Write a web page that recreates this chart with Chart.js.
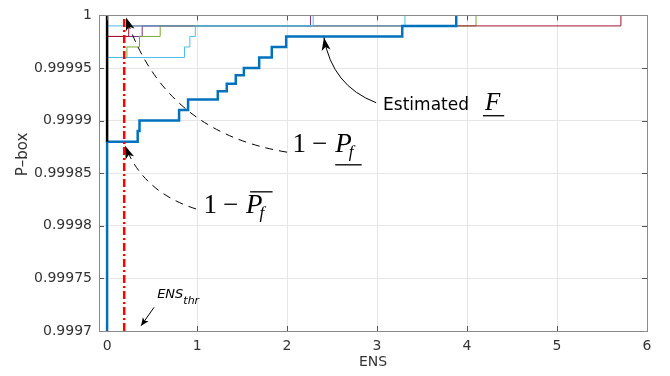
<!DOCTYPE html>
<html lang="en">
<head>
<meta charset="UTF-8">
<title>P-box of ENS</title>
<script src="https://cdn.jsdelivr.net/npm/chart.js"></script>
<style>
  body { margin: 0; background: #fff; }
</style>
</head>
<body>
<canvas id="pboxChart" width="670" height="376"></canvas>
<script>
// axis ticks
var xTicks = [0, 1, 2, 3, 4, 5, 6];
var yTicks = [0.9997, 0.99975, 0.9998, 0.99985, 0.9999, 0.99995, 1];
var yTickLabels = ['0.9997', '0.99975', '0.9998', '0.99985', '0.9999', '0.99995', '1'];

// estimated F (thick blue): ENS where it jumps, level after the jump
var estEns  = [0, 0, 0.34, 0.36, 0.80, 0.90, 1.23, 1.33, 1.43, 1.52, 1.69, 1.83, 1.99, 3.28, 3.88];
var estProb = [0.9997, 0.99988, 0.99989, 0.9999, 0.99991, 0.99992, 0.999928, 0.999935, 0.999943, 0.99995, 0.99996, 0.99997, 0.99998, 0.99999, 1];

// other p-box curves (thin)
var lb1Ens = [0, 2.29];
var lb1Prob = [0.99999, 1];
var lb2Ens = [0, 0.86, 0.92, 0.98, 3.31];
var lb2Prob = [0.99996, 0.99997, 0.99998, 0.99999, 1];
var greenEns = [0, 0.22, 0.36, 0.59, 4.10];
var greenProb = [0.99996, 0.99997, 0.99998, 0.99999, 1];
var purpleEns = [0, 0.39, 2.26];
var purpleProb = [0.99998, 0.99999, 1];
var crimsonEns = [0, 0.24, 5.71];
var crimsonProb = [0.99998, 0.99999, 1];

// black bound at ENS = 0
var boundEns = [0, 0];
var boundProb = [0.99988, 1];

// threshold
var ensThr = 0.19;

var sans = '"DejaVu Sans", sans-serif';
var serif = '"Liberation Serif", serif';

function toPoints(xs, ys) {
    var pts = [];
    for (var i = 0; i < xs.length; i++) pts.push({ x: xs[i], y: ys[i] });
    return pts;
}

function stepCurve(label, xs, ys, color, width) {
    return {
        label: label,
        data: toPoints(xs, ys),
        borderColor: color,
        backgroundColor: color,
        borderWidth: width,
        showLine: true,
        stepped: true,
        pointRadius: 0,
        fill: false
    };
}

// annotation anchors, in data units (ENS, probability)
var notes = {
    estText: [3.067, 0.99991],
    estArrow: [[2.99, 0.999917], [2.5, 0.999933], [2.41, 0.999979]],
    lowText: [2.06, 0.99987],
    lowArrow: [[2.0, 0.99987], [0.633, 0.999889], [0.211, 0.999998]],
    upText: [1.07, 0.999812],
    upArrow: [[0.989, 0.999816], [0.4, 0.999832], [0.2, 0.999876]],
    thrText: [0.556, 0.999731],
    thrArrow: [[0.522, 0.9997225], [0.378, 0.999705]]
};

function px(chart, p) {
    return { x: chart.scales.x.getPixelForValue(p[0]), y: chart.scales.y.getPixelForValue(p[1]) };
}

function arrowHead(c, tip, from, len, half) {
    var a = Math.atan2(tip.y - from.y, tip.x - from.x);
    var cs = Math.cos(a), sn = Math.sin(a);
    c.beginPath();
    c.moveTo(tip.x, tip.y);
    c.lineTo(tip.x - len * cs + half * sn, tip.y - len * sn - half * cs);
    c.lineTo(tip.x - 0.75 * len * cs, tip.y - 0.75 * len * sn);
    c.lineTo(tip.x - len * cs - half * sn, tip.y - len * sn + half * cs);
    c.closePath();
    c.fill();
}

function curvedArrow(c, chart, pts, dashed) {
    var p0 = px(chart, pts[0]), p1 = px(chart, pts[1]), p2 = px(chart, pts[2]);
    c.save();
    c.lineWidth = 1;
    c.strokeStyle = '#000';
    c.setLineDash(dashed ? [8, 6] : []);
    c.beginPath();
    c.moveTo(p0.x, p0.y);
    c.quadraticCurveTo(p1.x, p1.y, p2.x, p2.y);
    c.stroke();
    c.setLineDash([]);
    c.fillStyle = '#000';
    arrowHead(c, p2, p1, 13, 4.5);
    c.restore();
}

// 1 - P_f with a bar under or over the P
function oneMinusP(c, pos, bar) {
    var x = pos.x, y = pos.y;
    c.font = '27px ' + serif;
    c.fillText('1', x, y);
    x += c.measureText('1').width + 6;
    c.fillText('\u2212', x, y);
    x += c.measureText('\u2212').width + 8;
    c.font = 'italic 27px ' + serif;
    c.fillText('P', x, y);
    var pw = c.measureText('P').width;
    c.font = 'italic 17px ' + serif;
    c.fillText('f', x + pw - 3, y + 5);
    if (bar === 'under') c.fillRect(x, y + 12, pw + 10, 1.3);
    else c.fillRect(x + 4, y - 22, pw + 6, 1.3);
}

var framePlugin = {
    id: 'frame',
    afterDatasetsDraw: function (chart) {
        var c = chart.ctx, a = chart.chartArea;
        var sx = chart.scales.x, sy = chart.scales.y;
        c.save();
        // inner tick marks
        c.strokeStyle = '#555';
        c.lineWidth = 1;
        c.beginPath();
        xTicks.forEach(function (v) {
            var x = Math.round(sx.getPixelForValue(v)) + 0.5;
            c.moveTo(x, a.bottom); c.lineTo(x, a.bottom - 5);
            c.moveTo(x, a.top); c.lineTo(x, a.top + 5);
        });
        yTicks.forEach(function (v) {
            var y = Math.round(sy.getPixelForValue(v)) + 0.5;
            c.moveTo(a.left, y); c.lineTo(a.left + 5, y);
            c.moveTo(a.right, y); c.lineTo(a.right - 5, y);
        });
        c.stroke();
        // box
        c.strokeStyle = '#8a8a8a';
        c.strokeRect(Math.round(a.left) + 0.5, Math.round(a.top) + 0.5,
            Math.round(a.right - a.left), Math.round(a.bottom - a.top));

        // y axis title
        c.fillStyle = '#333';
        c.font = '15px ' + sans;
        c.textAlign = 'center';
        c.textBaseline = 'middle';
        c.translate(23, a.top + 139);
        c.rotate(-Math.PI / 2);
        c.fillText('P\u2013box', 0, 0);
        c.restore();

        // annotations
        c.save();
        c.fillStyle = '#000';
        c.textAlign = 'left';
        c.textBaseline = 'alphabetic';

        curvedArrow(c, chart, notes.estArrow, false);
        var t = px(chart, notes.estText);
        c.font = '17px ' + sans;
        c.fillText('Estimated', t.x, t.y);
        var fx = t.x + c.measureText('Estimated').width + 16;
        c.font = 'italic 25px ' + serif;
        c.fillText('F', fx, t.y);
        c.fillRect(fx - 2, t.y + 5, c.measureText('F').width + 6, 1.3);

        curvedArrow(c, chart, notes.lowArrow, true);
        oneMinusP(c, px(chart, notes.lowText), 'under');

        curvedArrow(c, chart, notes.upArrow, true);
        oneMinusP(c, px(chart, notes.upText), 'over');

        var e = px(chart, notes.thrText);
        c.font = 'italic 13px ' + sans;
        c.fillText('ENS', e.x, e.y);
        var ew = c.measureText('ENS').width;
        c.font = 'italic 11px ' + sans;
        c.fillText('thr', e.x + ew, e.y + 6);
        var s0 = px(chart, notes.thrArrow[0]), s1 = px(chart, notes.thrArrow[1]);
        c.lineWidth = 1;
        c.strokeStyle = '#000';
        c.beginPath();
        c.moveTo(s0.x, s0.y);
        c.lineTo(s1.x, s1.y);
        c.stroke();
        arrowHead(c, s1, s0, 8, 3.5);
        c.restore();
    }
};

var datasets = [
    {
        label: 'ENS thr',
        data: [{ x: ensThr, y: 0.9997 }, { x: ensThr, y: 1 }],
        borderColor: '#ff0000',
        borderWidth: 2.5,
        borderDash: [8, 3, 2, 3],
        showLine: true,
        pointRadius: 0
    },
    stepCurve('bound', boundEns, boundProb, '#000000', 2.5),
    stepCurve('Estimated F', estEns, estProb, '#0072BD', 2.5),
    stepCurve('p1', lb1Ens, lb1Prob, '#4DBEEE', 1),
    stepCurve('p2', lb2Ens, lb2Prob, '#4DBEEE', 1),
    stepCurve('p3', crimsonEns, crimsonProb, '#A2142F', 1),
    stepCurve('p4', greenEns, greenProb, '#77AC30', 1),
    stepCurve('p5', purpleEns, purpleProb, '#7E2F8E', 1)
];

var ctx = document.getElementById('pboxChart').getContext('2d');

var pboxChart = new Chart(ctx, {
    type: 'scatter',
    data: { datasets: datasets },
    options: {
        responsive: false,
        animation: false,
        layout: { padding: { top: 11, right: 23, left: 0, bottom: 0 } },
        plugins: {
            legend: { display: false },
            tooltip: { enabled: false }
        },
        scales: {
            x: {
                type: 'linear',
                min: -0.09,
                max: 6,
                afterBuildTicks: function (s) {
                    s.ticks = xTicks.map(function (v) { return { value: v }; });
                },
                afterFit: function (s) { s.height = 45; },
                ticks: {
                    autoSkip: false,
                    maxRotation: 0,
                    padding: 7,
                    color: '#333',
                    font: { family: sans, size: 14 },
                    callback: function (v) { return String(v); }
                },
                grid: { color: '#e6e6e6', drawTicks: false },
                border: { display: false },
                title: {
                    display: true,
                    text: 'ENS',
                    color: '#333',
                    font: { family: sans, size: 14 },
                    padding: { top: 0, bottom: 5 }
                }
            },
            y: {
                type: 'linear',
                min: 0.9997,
                max: 1,
                afterBuildTicks: function (s) {
                    s.ticks = yTicks.map(function (v) { return { value: v }; });
                },
                afterFit: function (s) { s.width = 99; },
                ticks: {
                    autoSkip: false,
                    padding: 7,
                    color: '#333',
                    font: { family: sans, size: 14 },
                    callback: function (v) {
                        var i = yTicks.indexOf(v);
                        return i >= 0 ? yTickLabels[i] : '';
                    }
                },
                grid: { color: '#e6e6e6', drawTicks: false },
                border: { display: false }
            }
        }
    },
    plugins: [framePlugin]
});
</script>
</body>
</html>
